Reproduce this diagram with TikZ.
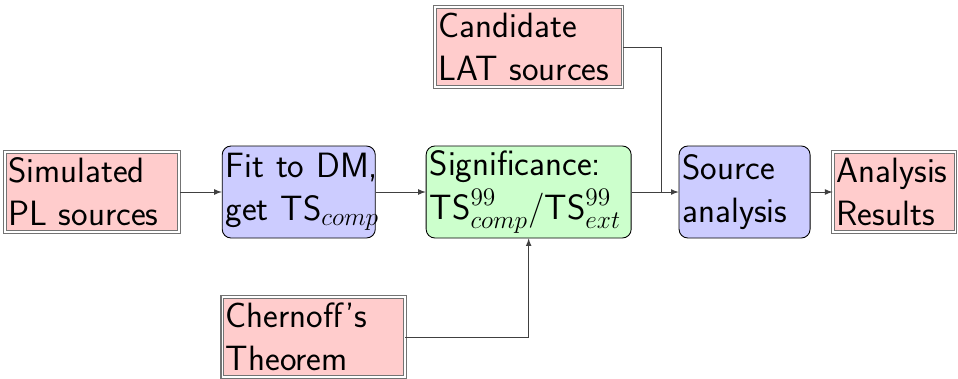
\documentclass[tikz,border=0pt]{standalone}
\usepackage{tikz}
\usetikzlibrary{positioning,shapes,arrows}

\tikzset{
  data/.style={draw=black!55, line width=0.6pt, double, double distance=0.9pt, fill=red!20, align=left, inner sep=2pt, minimum height=1.6cm},
  block/.style={draw, line width=0.5pt, fill=blue!20, rounded corners=5pt, align=left, inner sep=2pt, minimum height=1.84cm},
  check/.style={block, fill=green!20},
  link/.style={draw=black!75, line width=0.5pt},
}
\newcommand{\oneline}[1]{\mbox{#1}}

\begin{document}
\begin{tikzpicture}[>=latex, every node/.style={font=\sffamily\fontsize{20}{24.5}\selectfont}]
\useasboundingbox (0,0) rectangle (19.16,-7.56);
\node[data, text width=3.35cm](sim) at (1.84,-3.84){\oneline{Simulated}\\\oneline{PL sources}};
\node[block, text width=2.92cm](fit)[right=0.84cm of sim]{\oneline{Fit to DM,}\\\oneline{get TS$_{comp}$}};
\node[check, text width=3.96cm](sig)[right=1.0cm of fit]{\oneline{Significance:}\\\oneline{TS$^{99}_{comp}$/TS$^{99}_{ext}$}};
\node[block, text width=2.48cm](src)[right=0.94cm of sig]{\oneline{Source}\\\oneline{analysis}};
\node[data, text width=2.31cm](res)[right=0.44cm of src]{\oneline{Analysis}\\\oneline{Results}};

\node[data, text width=3.61cm](cand)[above=1.16cm of sig]{\oneline{Candidate}\\\oneline{LAT sources}};
\node[data, text width=3.51cm](chern)[below=1.16cm of fit.south west, anchor=north west]{\oneline{Chernoff's}\\\oneline{Theorem}};

\coordinate (join) at (13.22,-3.84);
\draw[link,->] (sim) -- (fit);
\draw[link,->] (fit) -- (sig);
\draw[link,->] (sig) -- (src);
\draw[link,->] (src) -- (res);
\draw[link] (cand) -| (join);
\draw[link,->] (chern) -| (sig);
\end{tikzpicture}
\end{document}
